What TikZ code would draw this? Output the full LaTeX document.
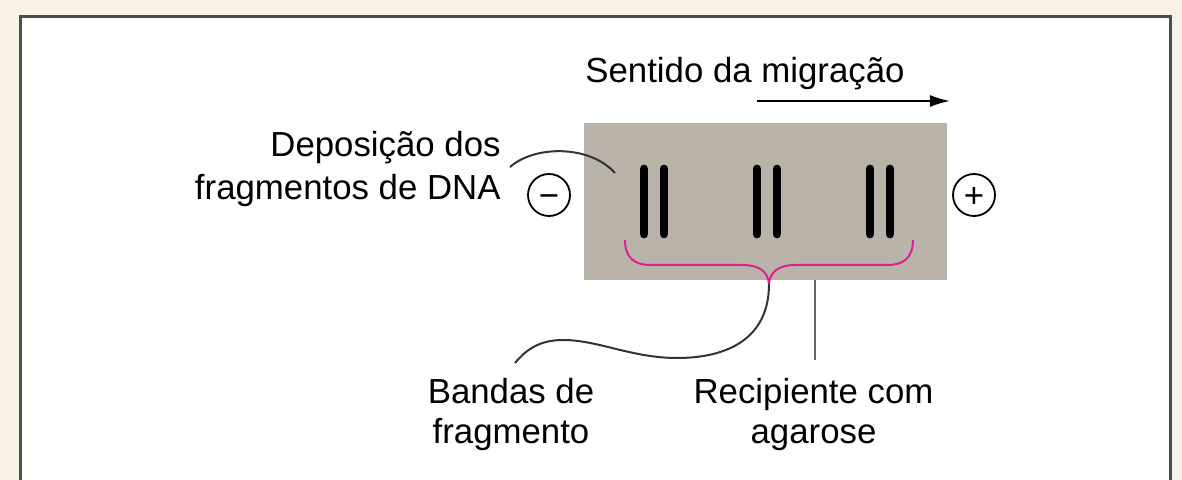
\documentclass[tikz,border=0pt]{standalone}
\usepackage{fontspec}
\setmainfont{Liberation Sans}
\usetikzlibrary{arrows.meta,positioning}
\definecolor{paper}{HTML}{F7F2E3}
\definecolor{agar}{HTML}{B9B3A9}
\definecolor{bracemagenta}{HTML}{DC2290}
\definecolor{framegray}{HTML}{4D4D4D}
\tikzset{
  caption/.style={inner sep=0pt, font=\fontsize{17.4}{20}\selectfont},
  band/.style={line width=4.4pt, line cap=round},
  pole/.style={draw, circle, line width=0.9pt, minimum size=21pt, inner sep=0pt,
    text height=12.4pt, text depth=0pt, font=\fontsize{17.4}{20}\selectfont},
  leader/.style={line width=1pt, black!80},
}

\begin{document}
\begin{tikzpicture}[x=0.5pt, y=-0.5pt]
  \useasboundingbox (0,0) rectangle (1182,480);
  \clip (0,0) rectangle (1182,480);
  \fill[paper] (0,0) rectangle (1182,480);
  \draw[framegray, line width=1.5pt, fill=white] (20,17) rectangle (1170,520);

  \node[fill=agar, minimum width=181.5pt, minimum height=78.5pt, inner sep=0pt] (gel) at (765.5,201.5) {};
  \foreach \x in {644,664,757,777,870,890}
    \draw[band] (\x,169) -- (\x,234);

  \node[caption, anchor=base west] (mig) at (585,83) {Sentido da migração};
  \coordinate (migtail) at (757,101);
  \coordinate (mighead) at (950,101);
  \draw[line width=1pt, -{Latex[length=10pt,width=6pt]}] (migtail) -- (mighead);

  \node[caption, align=right, anchor=base east, font=\fontsize{17.4}{21.5}\selectfont] (dep) at (501,200)
    {Deposição dos\\fragmentos de DNA};
  \coordinate (deptail) at (510,167);
  \coordinate (dephead) at (615,173);
  \draw[leader] (deptail) .. controls +(25,-22) and +(-25,-28) .. (dephead);

  \node[pole] (neg) at (549,195) {−};
  \node[pole] (pos) at (974,195) {+};

  \coordinate (bracetip) at (769,284);
  \draw[bracemagenta, line width=1pt] (625,240) .. controls (625,258) and (635,265) .. (650,265)
    -- (742,265) .. controls (760,265) and (768,272) .. (bracetip)
    .. controls (770,272) and (778,265) .. (796,265) -- (888,265)
    .. controls (903,265) and (913,258) .. (913,240);

  \node[caption, align=center, anchor=base] (bands) at (511,443) {Bandas de\\fragmento};
  \coordinate (bandtail) at (515,363);
  \draw[leader] (bracetip) .. controls +(0,55) and +(50,0) .. (677,358)
    .. controls +(-45,0) and +(35,0) .. (563,340)
    .. controls +(-25,0) and +(10,-12) .. (bandtail);

  \node[caption, align=center, anchor=base] (rec) at (813.5,443) {Recipiente com\\agarose};
  \coordinate (recend) at (815,360);
  \draw[line width=1pt, black!60] (gel.south -| recend) -- (recend);
\end{tikzpicture}
\end{document}
